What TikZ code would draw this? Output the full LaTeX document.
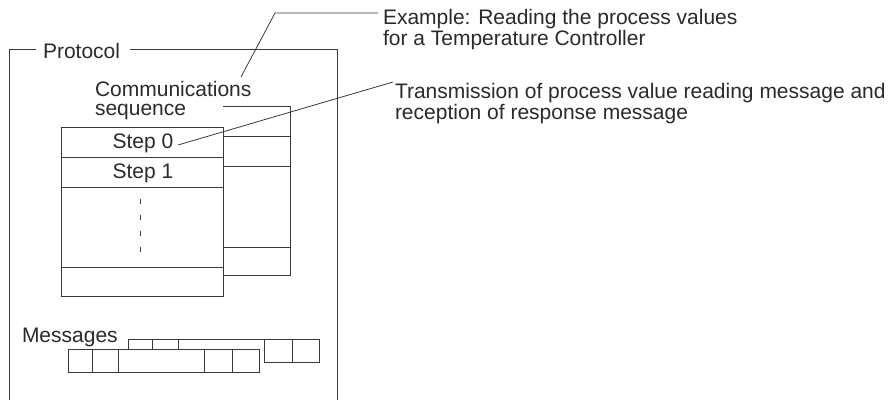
\documentclass[tikz,border=0pt]{standalone}
\usepackage{fontspec}
\setmainfont{Liberation Sans}
\definecolor{ink}{HTML}{2A2A2A}
\definecolor{linec}{HTML}{3A3A3A}
\begin{document}
\begin{tikzpicture}[x=1pt,y=-1pt,
  lbl/.style={inner sep=0pt,outer sep=0pt,anchor=base west,text=ink,
    font=\fontsize{21}{18.5}\selectfont,align=left},
  ln/.style={draw=linec,line width=0.9pt},
  leader/.style={draw=linec,line width=0.8pt}]
\useasboundingbox (0,0) rectangle (894,400);
% Protocol frame
\draw[ln] (36,49) -- (9,49) -- (9,400);
\draw[ln] (130,49) -- (337,49) -- (337,400);
\node[lbl] (prot) at (43,58) {Protocol};
% labels (base anchor = baseline of last line)
\node[lbl] (comm) at (95,115) {Communications\\sequence};
\node[lbl] (ex) at (383,45) {Example: Reading the process values\\for a Temperature Controller};
\node[lbl] (tx) at (395,119) {Transmission of process value reading message and\\reception of response message};
\node[lbl] (msg) at (22,342) {Messages};
% back sequence (visible part)
\draw[ln] (223,106) -- (290,106) -- (290,275) -- (223,275);
\foreach \yy in {136,166,247} \draw[ln] (223,\yy) -- (290,\yy);
% front sequence
\draw[ln] (61,127) rectangle (223,296);
\foreach \yy in {157,187,267} \draw[ln] (61,\yy) -- (223,\yy);
\node[lbl,anchor=center] (s0) at (143,143) {Step 0};
\node[lbl,anchor=center] (s1) at (143,173) {Step 1};
\draw[ln,dash pattern=on 5pt off 11pt] (140,199) -- (140,254);
% messages back row (visible part)
\draw[ln] (128,349) -- (128,339) -- (319,339) -- (319,362) -- (264,362);
\draw[ln] (152,339) -- (152,349);
\draw[ln] (178,339) -- (178,349);
\draw[ln] (264,339) -- (264,362);
\draw[ln] (292,339) -- (292,362);
% messages front row
\draw[ln] (68,349) rectangle (259,372);
\foreach \xx in {92,118,204,232} \draw[ln] (\xx,349) -- (\xx,372);
% leaders
\coordinate (c1) at (241,77);
\coordinate (k1) at (275,13);
\coordinate (e1) at (378,13);
\draw[leader] (c1) -- (k1) -- (e1);
\coordinate (c2) at (178,145);
\coordinate (e2) at (393,82);
\draw[leader] (c2) -- (e2);
\end{tikzpicture}
\end{document}
